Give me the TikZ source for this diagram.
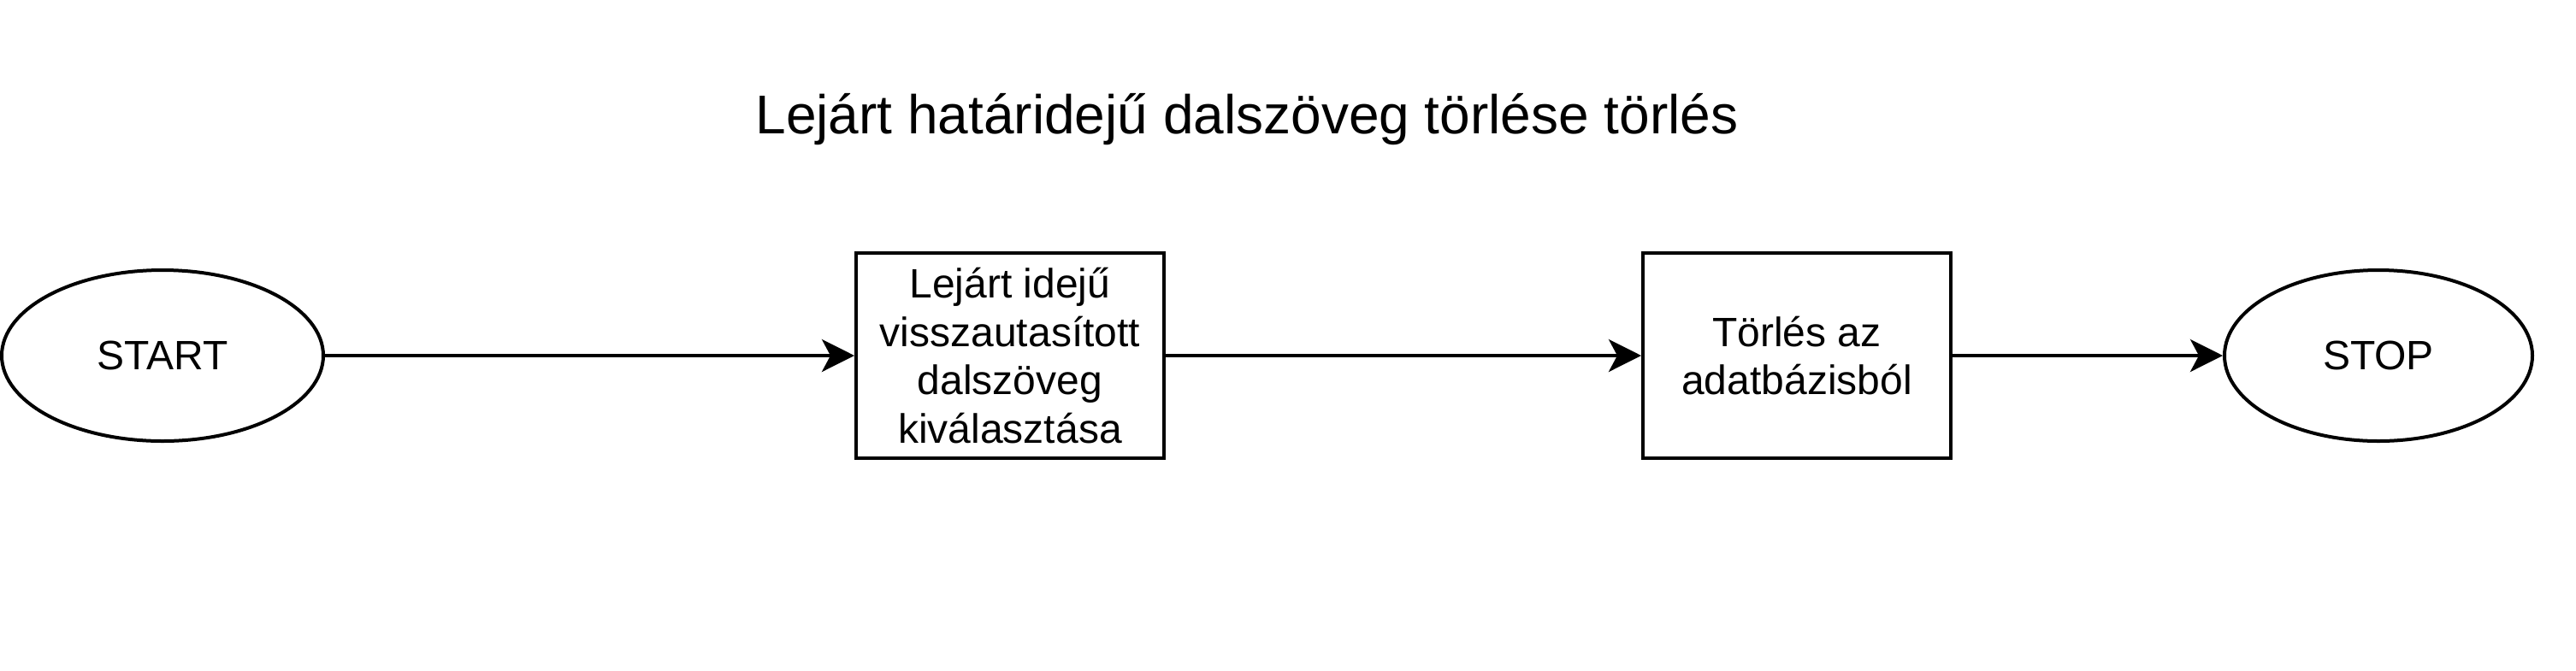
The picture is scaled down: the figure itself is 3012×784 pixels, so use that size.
\documentclass[tikz,border=0pt]{standalone}
\usepackage{fontspec}
\setmainfont{Liberation Sans}
\usetikzlibrary{shapes.geometric,arrows.meta}
\begin{document}
\begin{tikzpicture}[x=0.25pt,y=-0.25pt,
  term/.style={draw=black,line width=1pt,ellipse,inner sep=0pt,minimum width=94pt,minimum height=50pt,font=\fontsize{12pt}{14.2pt}\selectfont},
  proc/.style={draw=black,line width=1pt,rectangle,inner sep=0pt,minimum width=90pt,minimum height=60pt,align=center,font=\fontsize{12pt}{14.2pt}\selectfont},
  flow/.style={line width=1pt,-{Stealth[length=9.5pt,width=9.5pt,inset=2.5pt]}},
  ttl/.style={font=\fontsize{16pt}{19pt}\selectfont}]
\useasboundingbox (0,0) rectangle (3012,784);
\node[ttl] (title) at (1458,140) {Lejárt határidejű dalszöveg törlése törlés};
\node[term] (start) at (190,416) {START};
\node[proc] (sel) at (1181,416) {Lejárt idejű\\visszautasított\\dalszöveg\\kiválasztása};
\node[proc] (del) at (2101,416) {Törlés az\\adatbázisból};
\node[term,minimum width=90pt] (stop) at (2781,416) {STOP};
\draw[flow] (start) -- (sel);
\draw[flow] (sel) -- (del);
\draw[flow] (del) -- (stop);
\end{tikzpicture}
\end{document}
